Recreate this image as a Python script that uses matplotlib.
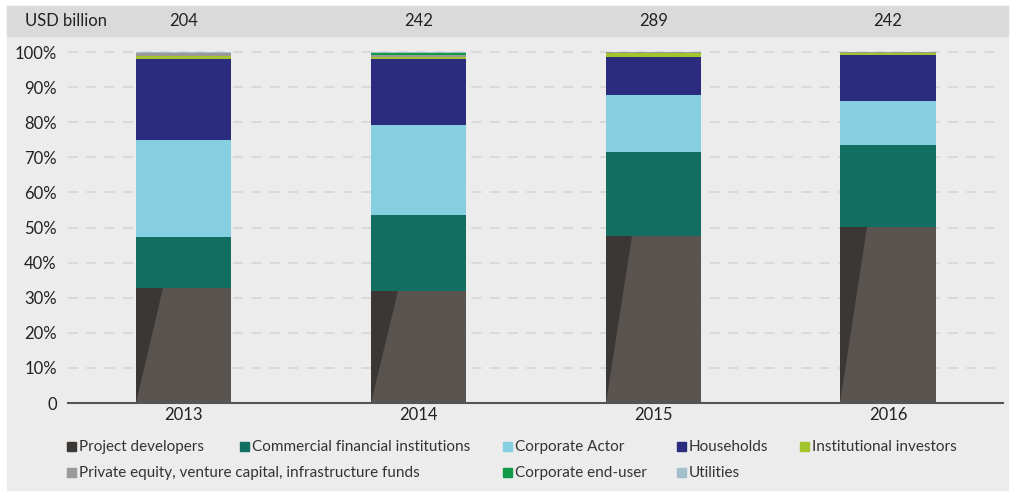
import matplotlib.pyplot as plt
from matplotlib.patches import Rectangle, Polygon
import numpy as np

years = ["2013", "2014", "2015", "2016"]
totals = [204, 242, 289, 242]

# shares in percent
project_dev = [32.8, 31.9, 47.6, 50.1]
commercial = [14.5, 21.7, 23.9, 23.4]
corporate_actor = [27.6, 25.6, 16.2, 12.5]
households = [23.1, 18.8, 10.9, 13.1]
institutional = [0.9, 0.5, 1.0, 0.6]
private_equity = [0.8, 0.7, 0.4, 0.3]
corporate_end = [0.0, 0.6, 0.0, 0.0]
utilities = [0.3, 0.2, 0.0, 0.0]

names = ["Project developers", "Commercial financial institutions", "Corporate Actor",
         "Households", "Institutional investors",
         "Private equity, venture capital, infrastructure funds",
         "Corporate end-user", "Utilities"]
series = [project_dev, commercial, corporate_actor, households, institutional,
          private_equity, corporate_end, utilities]
colors = ["#5a5451", "#136e62", "#85cfe0", "#2c2c7e", "#a4c42d",
          "#9a9a9a", "#119a48", "#a3bfcc"]
swatch = ["#3b3735"] + colors[1:]

plt.rcParams["font.family"] = ["Lato", "DejaVu Sans"]
W, H = 1013, 492
fig = plt.figure(figsize=(W / 100, H / 100), dpi=100, facecolor="white")

# panel background and header band
fig.patches.append(Rectangle((7 / W, 1 - 490 / H), 1001 / W, 484 / H,
                             transform=fig.transFigure, color="#ececec", zorder=-2))
fig.patches.append(Rectangle((7 / W, 1 - 36 / H), 1001 / W, 30 / H,
                             transform=fig.transFigure, color="#dadada", zorder=-1))

ax = fig.add_axes([68 / W, 1 - 403 / H, 935 / W, 358 / H])
ax.set_facecolor("none")

x = np.arange(len(years))
bottom = np.zeros(len(years))
bars_pd = None
for vals, c in zip(series, colors):
    b = ax.bar(x, vals, 0.405, bottom=bottom, color=c, zorder=2)
    if bars_pd is None:
        bars_pd = b
    bottom += np.array(vals)

# darker shading wedge on project developers segment
for rect in bars_pd:
    x0, w, h = rect.get_x(), rect.get_width(), rect.get_height()
    ax.add_patch(Polygon([(x0, 0), (x0, h), (x0 + 0.28 * w, h)],
                         closed=True, color="#3b3735", zorder=3, lw=0))

ax.set_xlim(-0.494, 3.49)
ax.set_ylim(0, 102)
ax.set_yticks(np.arange(0, 101, 10))
ax.set_yticklabels(["0"] + [f"{v}%" for v in range(10, 101, 10)])
ax.set_xticks(x)
ax.set_xticklabels(years)
ax.yaxis.grid(True, color="#d6d6d6", linestyle=(0, (6, 5)), lw=1.2, zorder=0)
for s in ["top", "right", "left"]:
    ax.spines[s].set_visible(False)
ax.spines["bottom"].set_color("#555555")
ax.spines["bottom"].set_linewidth(1.5)
ax.tick_params(axis="both", length=0, labelsize=12, colors="#222222", pad=8)
ax.tick_params(axis="x", pad=3)

# header: totals in USD billion
fig.text(25 / W, 1 - 21 / H, "USD billion", fontsize=12, color="#222222", va="center")
for i, t in enumerate(totals):
    xf = ax.transData.transform((i, 0))[0] / W
    fig.text(xf, 1 - 21 / H, str(t), fontsize=12, color="#222222", va="center", ha="center")

# legend drawn manually to follow the original layout
legend_pos = [(67, 447), (240, 447), (503, 447), (677, 447), (800, 447),
              (67, 473), (503, 473), (677, 473)]
for (px, py), name, c in zip(legend_pos, names, swatch):
    fig.patches.append(Rectangle((px / W, 1 - (py + 4) / H), 9 / W, 9 / H,
                                 transform=fig.transFigure, color=c))
    fig.text((px + 12) / W, 1 - py / H, name, fontsize=11, color="#333333", va="center")

fig.savefig("out.png", dpi=100, facecolor=fig.get_facecolor())
